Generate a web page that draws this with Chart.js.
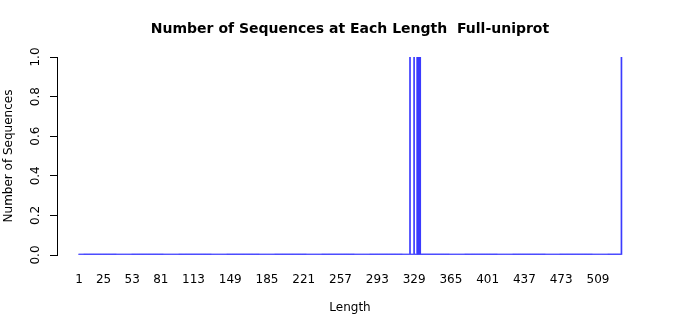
<!DOCTYPE html>
<html>
<head>
<meta charset="utf-8">
<script src="https://cdn.jsdelivr.net/npm/chart.js@4/dist/chart.umd.min.js"></script>
<style>html,body{margin:0;padding:0;background:#fff;}canvas{display:block;}</style>
</head>
<body>
<canvas id="c" width="700" height="315"></canvas>
<script>
// Data
const maxLength = 532;                                  // last length category on the axis
const observedLengths = [325, 329, 332, 333, 334, 335, 532];
const observedCounts  = [1, 1, 1, 1, 1, 1, 1];
const xTickLabels = [1, 25, 53, 81, 113, 149, 185, 221, 257, 293, 329, 365, 401, 437, 473, 509];
const yTickValues = [0, 0.2, 0.4, 0.6, 0.8, 1.0];
const titleText = 'Number of Sequences at Each Length  Full-uniprot';

// categories 1..maxLength; count is the observed count or 0
const categories = [];
for (let i = 1; i <= maxLength; i++) categories.push(i);
const points = categories.map(len => {
  const k = observedLengths.indexOf(len);
  return {x: len, y: k >= 0 ? observedCounts[k] : 0};
});

const FONT = "'DejaVu Sans', sans-serif";

const yLabelPlugin = {
  id: 'yLabels',
  afterDraw(chart) {
    const ys = chart.scales.y;
    const ctx = chart.ctx;
    ctx.save();
    ctx.fillStyle = '#000';
    ctx.font = '12px ' + FONT;
    ctx.textAlign = 'center';
    ctx.textBaseline = 'middle';
    yTickValues.forEach(v => {
      const py = ys.getPixelForValue(v);
      ctx.save();
      ctx.translate(36, py);
      ctx.rotate(-Math.PI / 2);
      ctx.fillText(v.toFixed(1), 0, 0);
      ctx.restore();
    });
    ctx.restore();
  }
};

new Chart(document.getElementById('c'), {
  type: 'bar',
  data: {
    datasets: [{
      data: points,
      backgroundColor: '#3b3bff',
      borderWidth: 0,
      minBarLength: 1,
      barPercentage: 1,
      categoryPercentage: 1
    }]
  },
  options: {
    responsive: false,
    animation: false,
    devicePixelRatio: 1,
    layout: {padding: 0},
    plugins: {
      legend: {display: false},
      tooltip: {enabled: false},
      title: {
        display: true,
        text: titleText,
        color: '#000',
        font: {family: FONT, size: 14, weight: 'bold'},
        padding: {top: 21, bottom: 19.2}
      }
    },
    scales: {
      x: {
        type: 'linear',
        min: -20.6,
        max: 553.1,
        offset: false,
        grid: {display: false},
        border: {display: false},
        afterBuildTicks(scale) { scale.ticks = xTickLabels.map(v => ({value: v})); },
        afterFit(scale) { scale.height = 60; },
        ticks: {
          color: '#000',
          font: {family: FONT, size: 12},
          padding: 10,
          maxRotation: 0,
          autoSkip: false,
          callback: v => String(v)
        },
        title: {
          display: true,
          text: 'Length',
          color: '#000',
          font: {family: FONT, size: 12},
          padding: {top: 0, bottom: 0}
        }
      },
      y: {
        min: 0,
        max: 1,
        afterBuildTicks(scale) { scale.ticks = yTickValues.map(v => ({value: v})); },
        afterFit(scale) { scale.width = 57; },
        grid: {drawOnChartArea: false, drawTicks: true, tickLength: 7, color: '#000'},
        border: {display: true, color: '#000'},
        ticks: {display: false},
        title: {
          display: true,
          text: 'Number of Sequences',
          color: '#000',
          font: {family: FONT, size: 12},
          padding: {top: 2, bottom: 0}
        }
      },
      yRight: {
        type: 'linear',
        position: 'right',
        display: true,
        min: 0,
        max: 1,
        afterFit(scale) { scale.width = 57; },
        grid: {display: false},
        border: {display: false},
        ticks: {display: false}
      }
    }
  },
  plugins: [yLabelPlugin]
});
</script>
</body>
</html>
